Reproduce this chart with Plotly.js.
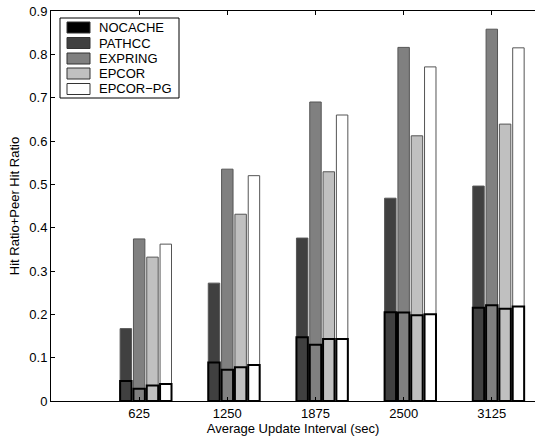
<!DOCTYPE html>
<html>
<head>
<meta charset="utf-8">
<script src="https://cdn.plot.ly/plotly-3.0.1.min.js"></script>
<style>html,body{margin:0;padding:0;background:#fff;}#chart{width:535px;height:437px;}</style>
</head>
<body>
<div id="chart"></div>
<script>
// Categories: average update interval (sec)
const intervals = ['625', '1250', '1875', '2500', '3125'];
const seriesNames = ['NOCACHE', 'PATHCC', 'EXPRING', 'EPCOR', 'EPCOR\u2212PG'];

// Total (hit ratio + peer hit ratio)
const totalNOCACHE = [0, 0, 0, 0, 0];
const totalPATHCC  = [0.167, 0.272, 0.376, 0.468, 0.496];
const totalEXPRING = [0.374, 0.535, 0.690, 0.816, 0.858];
const totalEPCOR   = [0.332, 0.431, 0.529, 0.612, 0.639];
const totalEPCORPG = [0.362, 0.520, 0.660, 0.771, 0.815];

// Hit ratio (lower, outlined segment)
const hitNOCACHE = [0, 0, 0, 0, 0];
const hitPATHCC  = [0.046, 0.089, 0.147, 0.205, 0.215];
const hitEXPRING = [0.028, 0.072, 0.130, 0.204, 0.221];
const hitEPCOR   = [0.036, 0.078, 0.143, 0.198, 0.213];
const hitEPCORPG = [0.039, 0.083, 0.143, 0.200, 0.218];

const totals = [totalNOCACHE, totalPATHCC, totalEXPRING, totalEPCOR, totalEPCORPG];
const hits = [hitNOCACHE, hitPATHCC, hitEXPRING, hitEPCOR, hitEPCORPG];
const fills = ['#000000', '#404040', '#808080', '#c0c0c0', '#ffffff'];

const traces = [];
for (let i = 0; i < seriesNames.length; i++) {
  traces.push({
    type: 'bar', x: intervals, y: totals[i], name: seriesNames[i],
    offsetgroup: 'g' + i, showlegend: false,
    marker: {color: fills[i], line: {color: i === 0 ? '#000' : '#555555', width: i === 0 ? 0 : 1}},
    hoverinfo: 'skip'
  });
}
for (let i = 0; i < seriesNames.length; i++) {
  traces.push({
    type: 'bar', x: intervals, y: hits[i], name: seriesNames[i] + ' hit',
    offsetgroup: 'g' + i, showlegend: false,
    marker: {color: fills[i], line: {color: '#000000', width: i === 0 ? 0 : 2}},
    hoverinfo: 'skip'
  });
}

const FONT = 'Liberation Sans, Arial, Helvetica, sans-serif';
const W = 535, H = 437, ML = 51, MR = 0, MT = 11, MB = 36;
const PW = W - ML - MR, PH = H - MT - MB;
const px = v => (v - ML) / PW;
const py = v => (H - MB - v) / PH;

// Custom legend (MATLAB style, compact rows)
const shapes = [{
  type: 'rect', xref: 'paper', yref: 'paper',
  x0: px(60), x1: px(179), y0: py(98), y1: py(18),
  line: {color: '#000', width: 1}, fillcolor: '#fff', layer: 'above'
}];
const annotations = [];
const rowY = [27.5, 43, 58.5, 73.5, 89];
for (let i = 0; i < seriesNames.length; i++) {
  shapes.push({
    type: 'rect', xref: 'paper', yref: 'paper',
    x0: px(67), x1: px(90), y0: py(rowY[i] + 5.5), y1: py(rowY[i] - 5.5),
    line: {color: '#333', width: 1}, fillcolor: fills[i], layer: 'above'
  });
  annotations.push({
    xref: 'paper', yref: 'paper', x: px(97), y: py(rowY[i]),
    xanchor: 'left', yanchor: 'middle', showarrow: false,
    text: seriesNames[i], font: {family: FONT, size: 13, color: '#000'}
  });
}

const layout = {
  width: W, height: H,
  margin: {l: ML, r: MR, t: MT, b: MB},
  paper_bgcolor: '#fff', plot_bgcolor: '#fff',
  font: {family: FONT, size: 13, color: '#000'},
  barmode: 'group', bargap: 0.245, bargroupgap: 0.14,
  showlegend: false,
  shapes: shapes,
  annotations: annotations,
  xaxis: {
    type: 'category', range: [-1, 4.49],
    showline: true, linecolor: '#000', linewidth: 1, mirror: 'ticks',
    ticks: 'inside', ticklen: 4, tickcolor: '#000',
    showgrid: false, zeroline: false,
    tickfont: {family: FONT, size: 13, color: '#000'},
    title: {text: 'Average Update Interval (sec)', font: {family: FONT, size: 13, color: '#000'}, standoff: 1}
  },
  yaxis: {
    range: [0, 0.9], dtick: 0.1, tick0: 0,
    showline: true, linecolor: '#000', linewidth: 1, mirror: false,
    ticks: 'inside', ticklen: 4, tickcolor: '#000',
    showgrid: false, zeroline: false,
    tickfont: {family: FONT, size: 13, color: '#000'},
    title: {text: 'Hit Ratio+Peer Hit Ratio', font: {family: FONT, size: 13, color: '#000'}, standoff: 6}
  }
};

Plotly.newPlot('chart', traces, layout, {displayModeBar: false, staticPlot: true});
</script>
</body>
</html>
